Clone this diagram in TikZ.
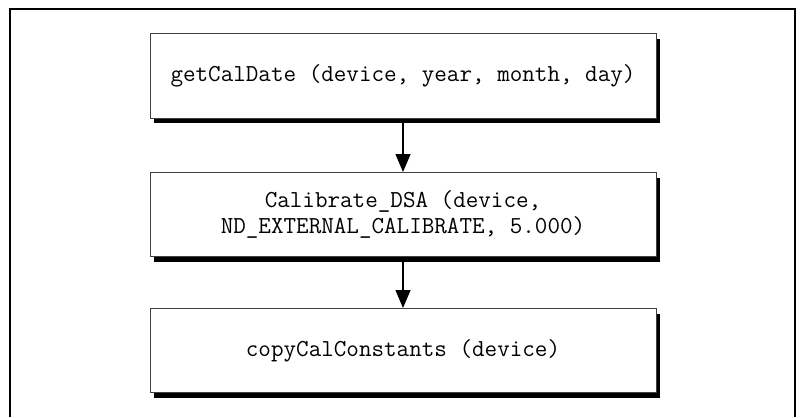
\documentclass[tikz,border=0pt]{standalone}
\usepackage{fontspec}
\usetikzlibrary{arrows.meta,shadows}
\tikzset{
  callbox/.style={draw=black!75, line width=.5pt, fill=white,
    minimum width=253pt, minimum height=42pt, align=center,
    font=\ttfamily\fontsize{12.2}{13}\selectfont,
    drop shadow={shadow xshift=2pt, shadow yshift=-2.5pt, fill=black, opacity=1}},
  callarrow/.style={line width=.6pt, -{Triangle[width=7.5pt,length=9pt]}}
}
\begin{document}
\begin{tikzpicture}[x=.5pt,y=-.5pt]
  \useasboundingbox (0,0) rectangle (801,417);

  %%frame
  \draw[line width=1pt](10, 417) -- (10, 9) -- (795, 9) -- (795, 417);

  %%steps
  \node[callbox] (getdate) at (403, 76) {getCalDate (device, year, month, day)};
  \node[callbox] (calib) at (403, 214.5) {Calibrate\_DSA (device,\\ND\_EXTERNAL\_CALIBRATE, 5.000)};
  \node[callbox] (copyconst) at (403, 350.5) {copyCalConstants (device)};

  %%arrows
  \draw[callarrow](getdate) to (calib);
  \draw[callarrow](calib) to (copyconst);
\end{tikzpicture}
\end{document}
